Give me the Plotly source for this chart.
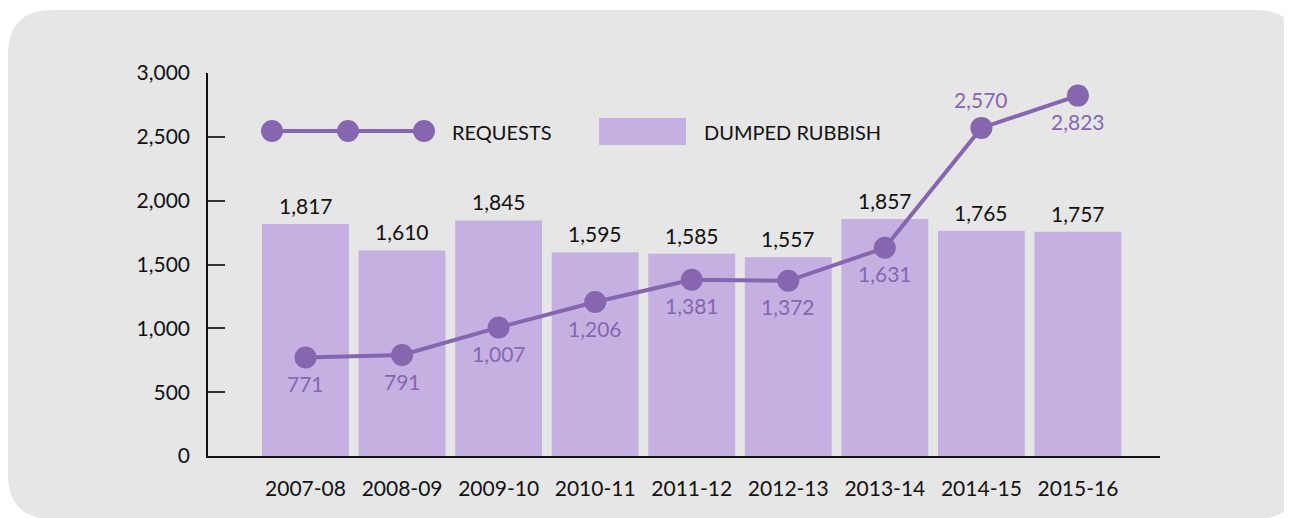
import plotly.graph_objects as go

years = ["2007-08", "2008-09", "2009-10", "2010-11", "2011-12", "2012-13", "2013-14", "2014-15", "2015-16"]
dumped_rubbish = [1817, 1610, 1845, 1595, 1585, 1557, 1857, 1765, 1757]
requests = [771, 791, 1007, 1206, 1381, 1372, 1631, 2570, 2823]
req_label_pos = ["below", "below", "below", "below", "below", "below", "below", "above", "below"]
y_ticks = [0, 500, 1000, 1500, 2000, 2500, 3000]

OFF = 8  # page body margin
W, H = 1292 - OFF, 518 - OFF
# plot area in page pixels
L, R, T, B = 208, 1160, 73, 456

LINE_C = "#8766b0"
BAR_C = "#c4b1e1"
BG_C = "#e6e6e6"
FONT = "Lato"
FS = 21

def px(x):
    return (x - L) / (R - L)

def py(y):
    return (B - y) / (B - T)

fig = go.Figure()
fig.add_trace(go.Bar(x=years, y=dumped_rubbish, name="DUMPED RUBBISH",
                     marker=dict(color=BAR_C, line=dict(width=0)), showlegend=False))
fig.add_trace(go.Scatter(x=years, y=requests, name="REQUESTS", mode="lines+markers",
                         line=dict(color=LINE_C, width=4),
                         marker=dict(color=LINE_C, size=22), showlegend=False))

ann = []
for c, v in zip(years, dumped_rubbish):
    ann.append(dict(x=c, y=v, xref="x", yref="y", text=f"{v:,}", showarrow=False,
                    yanchor="bottom", yshift=4, font=dict(family=FONT, size=FS, color="#111111")))
for c, v, p in zip(years, requests, req_label_pos):
    ann.append(dict(x=c, y=v, xref="x", yref="y", text=f"{v:,}", showarrow=False,
                    yanchor="middle", yshift=(28 if p == "above" else -26),
                    font=dict(family=FONT, size=FS, color=LINE_C)))
ann.append(dict(x=px(450), y=py(132), xref="paper", yref="paper", text="REQUESTS", showarrow=False,
                xanchor="left", yanchor="middle", font=dict(family=FONT, size=20, color="#111111")))
ann.append(dict(x=px(702), y=py(132), xref="paper", yref="paper", text="DUMPED RUBBISH", showarrow=False,
                xanchor="left", yanchor="middle", font=dict(family=FONT, size=20, color="#111111")))

shapes = []
x0, x1, y0, y1, r = 8, 1300, 10, 519, 45
path = (f"M {px(x0+r)},{py(y0)} L {px(x1-r)},{py(y0)} Q {px(x1)},{py(y0)} {px(x1)},{py(y0+r)} "
        f"L {px(x1)},{py(y1-r)} Q {px(x1)},{py(y1)} {px(x1-r)},{py(y1)} "
        f"L {px(x0+r)},{py(y1)} Q {px(x0)},{py(y1)} {px(x0)},{py(y1-r)} "
        f"L {px(x0)},{py(y0+r)} Q {px(x0)},{py(y0)} {px(x0+r)},{py(y0)} Z")
shapes.append(dict(type="path", path=path, xref="paper", yref="paper", fillcolor=BG_C,
                   line=dict(width=0), layer="below"))
shapes.append(dict(type="line", xref="paper", yref="paper", x0=px(272), x1=px(424), y0=py(131), y1=py(131),
                   line=dict(color=LINE_C, width=4)))
for cx in (272, 348, 424):
    shapes.append(dict(type="circle", xref="paper", yref="paper", x0=px(cx-11), x1=px(cx+11),
                       y0=py(131+11), y1=py(131-11), fillcolor=LINE_C, line=dict(width=0)))
shapes.append(dict(type="rect", xref="paper", yref="paper", x0=px(599), x1=px(686), y0=py(145), y1=py(118),
                   fillcolor=BAR_C, line=dict(width=0)))

fig.update_layout(
    width=W, height=H,
    margin=dict(l=L - OFF, r=W - (R - OFF), t=T - OFF, b=H - (B - OFF), pad=0),
    paper_bgcolor="white", plot_bgcolor="rgba(0,0,0,0)",
    bargap=0.1,
    font=dict(family=FONT, size=FS, color="#111111"),
    annotations=ann, shapes=shapes,
    xaxis=dict(type="category", range=[-1.01, 8.85], showline=True, linecolor="#111111", linewidth=1.5,
               ticks="", showgrid=False, zeroline=False, ticklabelstandoff=13,
               tickfont=dict(family=FONT, size=FS, color="#111111")),
    yaxis=dict(range=[0, 3000], tickvals=y_ticks, ticktext=[f"{v:,}" for v in y_ticks],
               showline=True, linecolor="#111111", linewidth=1.5, ticks="inside", ticklen=17,
               tickwidth=1.5, tickcolor="#333333", showgrid=False, zeroline=False, ticklabelstandoff=12,
               tickfont=dict(family=FONT, size=FS, color="#111111")),
)
fig.write_html("out.html")
